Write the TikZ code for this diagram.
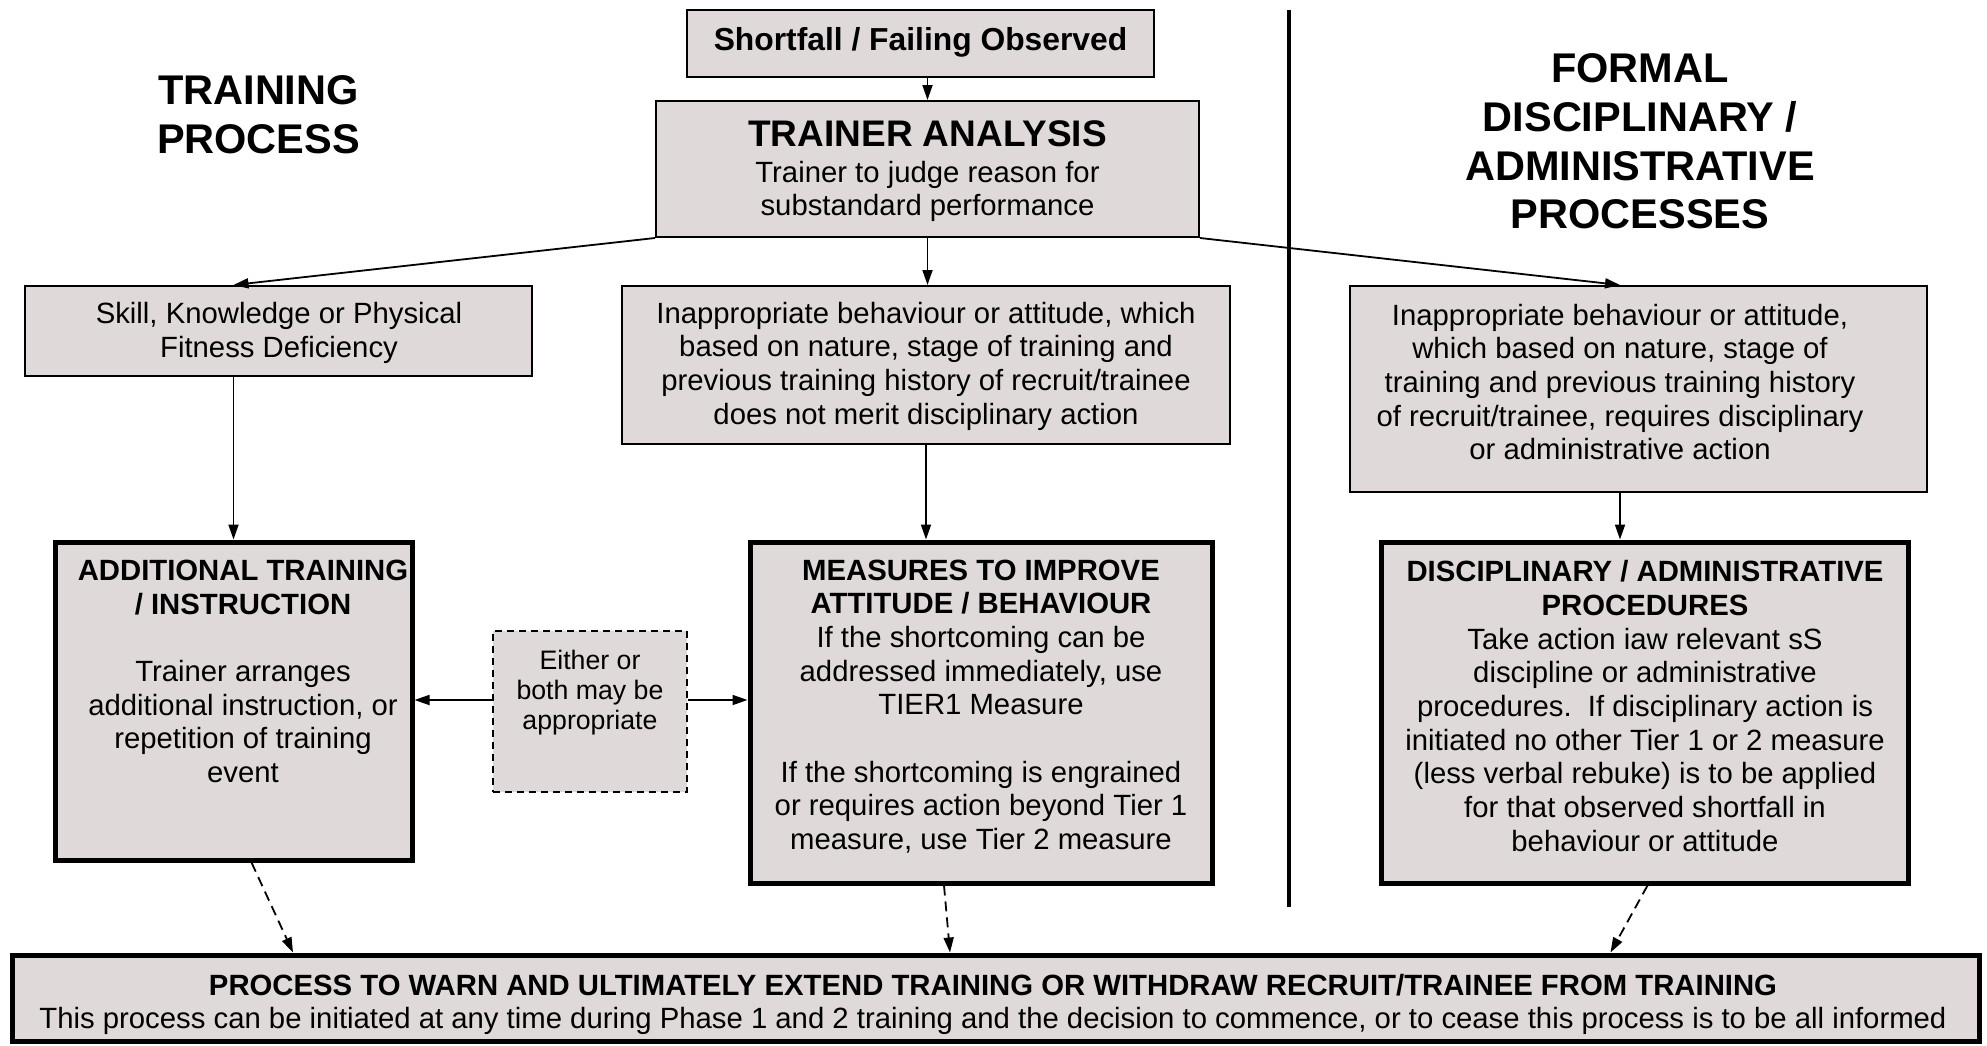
\documentclass[tikz,border=0pt]{standalone}
\usepackage{fontspec}
\setmainfont{Liberation Sans}
\usetikzlibrary{arrows.meta,calc}
\definecolor{boxfill}{RGB}{223,217,217}
\begin{document}
\begin{tikzpicture}[x=1pt,y=-1pt,
  thinbox/.style={draw=black, line width=2pt, fill=boxfill, inner sep=0pt},
  thickbox/.style={draw=black, line width=5pt, fill=boxfill, inner sep=0pt},
  dashbox/.style={draw=black, line width=1.6pt, dash pattern=on 7pt off 5pt, fill=boxfill, inner sep=0pt},
  body/.style={font=\fontsize{29.3}{33.7}\selectfont, align=center, inner sep=0pt},
  small/.style={font=\fontsize{26.7}{30.4}\selectfont, align=center, inner sep=0pt},
  bigtitle/.style={font=\fontsize{41.5}{48.7}\selectfont\bfseries, align=center, inner sep=0pt},
  arr/.style={-{Triangle[length=15pt,width=10pt]}, line width=1.8pt},
  darr/.style={arr, dash pattern=on 10pt off 6pt}]
\useasboundingbox (0,0) rectangle (1987,1045);

% boxes
\node[thinbox, minimum width=467pt, minimum height=67pt] (short) at (920.5,43.5) {};
\node[thinbox, minimum width=543pt, minimum height=136pt] (trainer) at (927.5,169) {};
\node[thinbox, minimum width=507pt, minimum height=90pt] (skill) at (278.5,331) {};
\node[thinbox, minimum width=608pt, minimum height=158pt] (mid) at (926,365) {};
\node[thinbox, minimum width=577pt, minimum height=206pt] (right) at (1638.5,389) {};
\node[thickbox, minimum width=357pt, minimum height=318pt] (addtrain) at (233.5,701) {};
\node[thickbox, minimum width=462pt, minimum height=341pt] (measures) at (981,712.5) {};
\node[thickbox, minimum width=527pt, minimum height=341pt] (disc) at (1644.5,712.5) {};
\node[dashbox, minimum width=194pt, minimum height=161pt] (either) at (590,711.5) {};
\node[thickbox, minimum width=1967pt, minimum height=86pt] (bottom) at (995.5,998) {};

% divider
\draw[line width=4pt] (1289,10) -- (1289,907);

% titles
\node[bigtitle] (ttrain) at (258.5,114.5) {TRAINING\\PROCESS};
\node[bigtitle] (tformal) at (1640,141.5) {FORMAL\\DISCIPLINARY /\\ADMINISTRATIVE\\PROCESSES};

% texts
\node[body, font=\fontsize{31.8}{36}\selectfont\bfseries] (shorttxt) at (920.5,42) {Shortfall / Failing Observed};
\node[body, font=\fontsize{37}{40}\selectfont\bfseries] (trtitle) at (927.5,134) {TRAINER ANALYSIS};
\node[body] (trtxt) at (927.5,191.5) {Trainer to judge reason for\\substandard performance};
\node[body] (skilltxt) at (279,333) {Skill, Knowledge or Physical\\Fitness Deficiency};
\node[body] (midtxt) at (926,366) {Inappropriate behaviour or attitude, which\\based on nature, stage of training and\\previous training history of recruit/trainee\\does not merit disciplinary action};
\node[body] (righttxt) at (1620,382) {Inappropriate behaviour or attitude,\\which based on nature, stage of\\training and previous training history\\of recruit/trainee, requires disciplinary\\or administrative action};
\node[body] (addtxt) at (243,671.5) {\textbf{ADDITIONAL TRAINING}\\\textbf{/ INSTRUCTION}\\~\\Trainer arranges\\additional instruction, or\\repetition of training\\event};
\node[body] (meastxt) at (981,706.5) {\textbf{MEASURES TO IMPROVE}\\\textbf{ATTITUDE / BEHAVIOUR}\\If the shortcoming can be\\addressed immediately, use\\TIER1 Measure\\~\\If the shortcoming is engrained\\or requires action beyond Tier 1\\measure, use Tier 2 measure};
\node[body] (disctxt) at (1645,706) {\textbf{DISCIPLINARY / ADMINISTRATIVE}\\\textbf{PROCEDURES}\\Take action iaw relevant sS\\discipline or administrative\\procedures.\ \ If disciplinary action is\\initiated no other Tier 1 or 2 measure\\(less verbal rebuke) is to be applied\\for that observed shortfall in\\behaviour or attitude};
\node[small] (eithertxt) at (590,692.5) {Either or\\both may be\\appropriate};
\node[body] (bottomtxt) at (993,1004.5) {\textbf{PROCESS TO WARN AND ULTIMATELY EXTEND TRAINING OR WITHDRAW RECRUIT/TRAINEE FROM TRAINING}\\This process can be initiated at any time during Phase 1 and 2 training and the decision to commence, or to cease this process is to be all informed};

% connectors
\draw[arr] (short.south -| trainer.north) -- (trainer.north);
\draw[arr] (trainer.south west) -- (skill.north -| addtrain.north);
\draw[arr] (trainer.south) -- (trainer.south |- mid.north);
\draw[arr] (trainer.south east) -- (right.north -| righttxt.north);
\draw[arr] (skill.south -| addtrain.north) -- (addtrain.north);
\draw[arr] (mid.south) -- (mid.south |- measures.north);
\draw[arr] (right.south -| righttxt.north) -- (righttxt.north |- disc.north);
\draw[arr] ([yshift=11.5pt]either.west) -- ([yshift=11.5pt]either.west -| addtrain.east);
\draw[arr] ([yshift=11.5pt]either.east) -- ([yshift=11.5pt]either.east -| measures.west);
\draw[darr] ([xshift=18pt]addtrain.south) -- ([xshift=-702.5pt]bottom.north);
\draw[darr] ([xshift=-37pt]measures.south) -- ([xshift=-45.5pt]bottom.north);
\draw[darr] ([xshift=3pt]disc.south) -- ([xshift=615pt]bottom.north);
\end{tikzpicture}
\end{document}
